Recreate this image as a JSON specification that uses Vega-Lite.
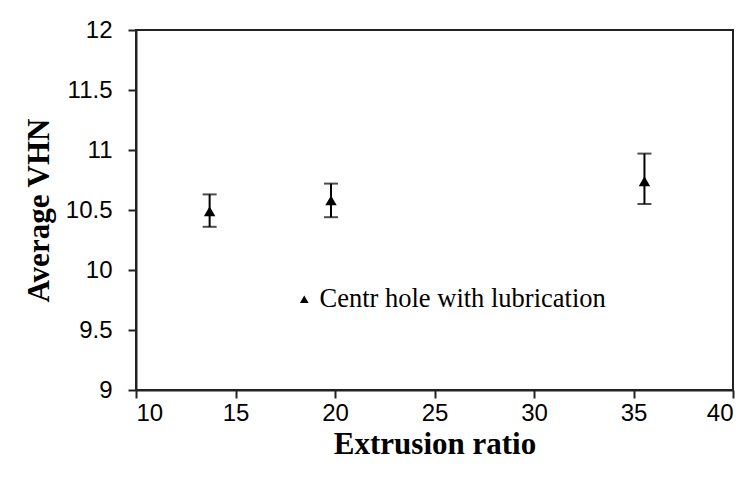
{
  "$schema": "https://vega.github.io/schema/vega-lite/v6.json",
  "width": 597,
  "height": 360,
  "autosize": {"type": "none"},
  "padding": {"left": 136, "top": 30, "right": 12, "bottom": 101},
  "background": "white",
  "data": {
    "values": [
      {"ratio": 13.7, "vhn": 10.49, "lo": 10.36, "hi": 10.63, "series": "Centr hole with lubrication"},
      {"ratio": 19.8, "vhn": 10.58, "lo": 10.44, "hi": 10.72, "series": "Centr hole with lubrication"},
      {"ratio": 35.55, "vhn": 10.74, "lo": 10.55, "hi": 10.97, "series": "Centr hole with lubrication"}
    ]
  },
  "config": {
    "view": {"stroke": "#222", "strokeWidth": 2},
    "axis": {
      "grid": false,
      "domainColor": "#222",
      "domainWidth": 2,
      "tickColor": "#222",
      "tickWidth": 2,
      "tickSize": 8,
      "labelFont": "Liberation Sans",
      "labelFontSize": 24,
      "labelColor": "#000",
      "titleFont": "Liberation Serif",
      "titleFontSize": 31,
      "titleFontWeight": "bold",
      "titleColor": "#000"
    }
  },
  "layer": [
    {
      "mark": {"type": "errorbar", "ticks": {"size": 14, "thickness": 2, "color": "#000"}, "rule": {"strokeWidth": 2, "color": "#000"}},
      "encoding": {
        "x": {"field": "ratio", "type": "quantitative", "title": "Extrusion ratio"},
        "y": {"field": "lo", "type": "quantitative", "title": "Average VHN"},
        "y2": {"field": "hi"}
      }
    },
    {
      "mark": {"type": "point", "filled": true, "color": "#000", "size": 130, "opacity": 1},
      "encoding": {
        "x": {
          "field": "ratio", "type": "quantitative",
          "scale": {"domain": [10, 40], "nice": false, "zero": false},
          "axis": {"values": [10, 15, 20, 25, 30, 35, 40], "title": "Extrusion ratio", "labelPadding": 3, "titlePadding": 4}
        },
        "y": {
          "field": "vhn", "type": "quantitative",
          "scale": {"domain": [9, 12], "nice": false, "zero": false},
          "axis": {"values": [9, 9.5, 10, 10.5, 11, 11.5, 12], "format": "~g", "title": "Average VHN", "labelPadding": 16, "titlePadding": 10}
        },
        "shape": {
          "field": "series", "type": "nominal",
          "scale": {"range": ["triangle-up"]},
          "legend": {
            "title": null,
            "orient": "none",
            "legendX": 155,
            "legendY": 256,
            "labelFont": "Liberation Serif",
            "labelFontSize": 26.5,
            "labelColor": "#000",
            "labelLimit": 500,
            "symbolSize": 75,
            "symbolFillColor": "#000",
            "symbolStrokeColor": "#000",
            "symbolType": "triangle-up",
            "labelOffset": 2
          }
        }
      }
    }
  ]
}
